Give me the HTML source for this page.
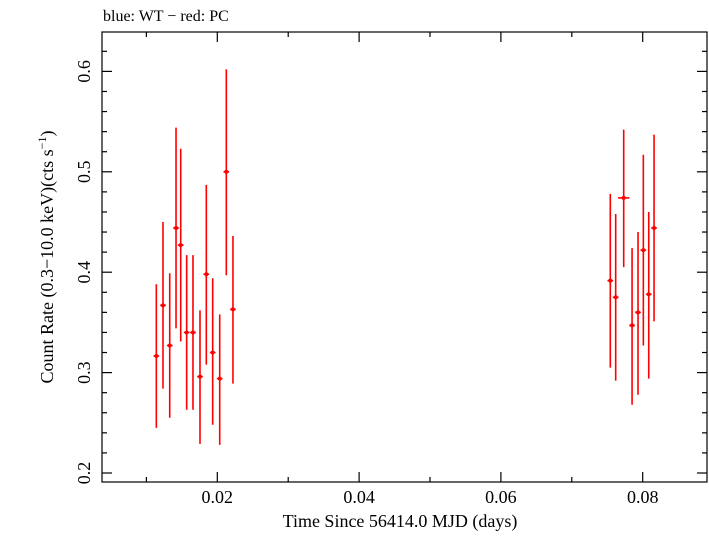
<!DOCTYPE html>
<html><head><meta charset="utf-8"><style>
body{margin:0;background:#fff}
svg text{font-family:"Liberation Serif","DejaVu Serif",serif;fill:#000}
</style></head><body>
<svg id="chart" width="709" height="532" viewBox="0 0 709 532" xmlns="http://www.w3.org/2000/svg">
<text x="103" y="21" font-size="16">blue: WT − red: PC</text>
<rect x="102" y="32" width="605" height="450" fill="none" stroke="#000" stroke-width="1.2"/>
<g id="ticks"></g>
<g id="marks"></g>
<text x="400" y="527" font-size="18" text-anchor="middle">Time Since 56414.0 MJD (days)</text>
<text transform="translate(53,257) rotate(-90)" font-size="18" text-anchor="middle">Count Rate (0.3−10.0 keV)(cts s<tspan font-size="12" dy="-7">−1</tspan><tspan dy="7">)</tspan></text>
</svg>
<script>
const times=[0.0114,0.01234,0.01329,0.01418,0.01484,0.01568,0.01657,0.01756,0.01845,0.01935,0.02034,0.02127,0.02221,0.07543,0.07619,0.07732,0.0785,0.07934,0.08009,0.08085,0.0816];
const timeErr=[0.0004,0.0004,0.0004,0.0004,0.0004,0.0004,0.0004,0.0004,0.0004,0.0004,0.0004,0.0004,0.0004,0.0004,0.0004,0.0008,0.0004,0.0004,0.0004,0.0004,0.0004];
const rates=[0.3165,0.367,0.327,0.444,0.427,0.340,0.340,0.296,0.398,0.320,0.294,0.500,0.363,0.3916,0.375,0.474,0.347,0.360,0.422,0.378,0.444];
const rateHi=[0.388,0.450,0.399,0.544,0.523,0.417,0.417,0.362,0.487,0.394,0.358,0.602,0.436,0.478,0.458,0.542,0.424,0.440,0.517,0.460,0.537];
const rateLo=[0.245,0.284,0.255,0.344,0.331,0.263,0.263,0.229,0.308,0.248,0.228,0.397,0.289,0.305,0.292,0.405,0.268,0.278,0.327,0.294,0.351];
const xTicks=[0.02,0.04,0.06,0.08];
const xTickLabels=["0.02","0.04","0.06","0.08"];
const yTicks=[0.2,0.3,0.4,0.5,0.6];
const yTickLabels=["0.2","0.3","0.4","0.5","0.6"];
const NS="http://www.w3.org/2000/svg";
const L=102,R=707,T=32,B=482;
function xs(t){return 217.3+(t-0.02)*7090;}
function ys(v){return 473-(v-0.2)*1004;}
function mk(tag,attrs,parent){const e=document.createElementNS(NS,tag);for(const k in attrs)e.setAttribute(k,attrs[k]);parent.appendChild(e);return e;}
const tg=document.getElementById('ticks');
function line(x1,y1,x2,y2,name){const l=mk('line',{x1,y1,x2,y2,stroke:'#000','stroke-width':1.2},tg);

}
for(let t=0.01;t<0.089;t+=0.01){const x=xs(t);const maj=Math.abs(Math.round(t*100)%2)===0;const len=maj?10:5;
line(x,B,x,B-len,'x-tick');line(x,T,x,T+len,'x-tick-top');}
for(let v=0.2;v<0.64;v+=0.02){const y=ys(v);const maj=Math.abs(Math.round(v*100)%10)===0;const len=maj?10:5;
line(L,y,L+len,y,'y-tick');line(R,y,R-len,y,'y-tick-right');}
xTicks.forEach((t,i)=>{const tx=mk('text',{x:xs(t),y:503,'font-size':18,'text-anchor':'middle'},tg);tx.textContent=xTickLabels[i];

});
yTicks.forEach((v,i)=>{const tx=mk('text',{transform:`translate(90,${ys(v)}) rotate(-90)`,'font-size':18,'text-anchor':'middle'},tg);tx.textContent=yTickLabels[i];

});
const mg=document.getElementById('marks');
times.forEach((t,i)=>{const g=mk('g',{},mg);


const x=xs(t),y=ys(rates[i]);
mk('line',{x1:x,y1:ys(rateHi[i]),x2:x,y2:ys(rateLo[i]),stroke:'#f00','stroke-width':1.6},g);
mk('line',{x1:xs(t-timeErr[i]),y1:y,x2:xs(t+timeErr[i]),y2:y,stroke:'#f00','stroke-width':1.6},g);
mk('circle',{cx:x,cy:y,r:2,fill:'#f00'},g);});
</script>
</body></html>
